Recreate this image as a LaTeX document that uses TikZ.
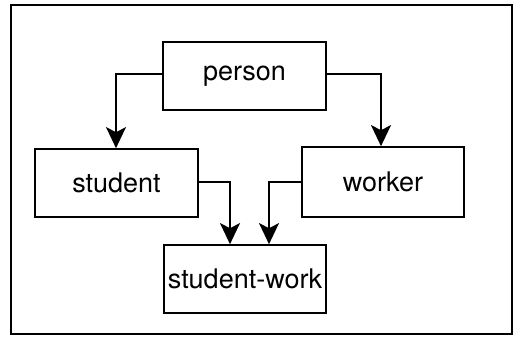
\documentclass[tikz,border=0pt]{standalone}
\usepackage{fontspec}
\setmainfont{TeX Gyre Heros}
\usetikzlibrary{arrows.meta}
\begin{document}
\begin{tikzpicture}[x=1pt,y=-1pt,
  box/.style={draw,line width=1.7pt,inner sep=0pt,font=\fontsize{27}{30}\selectfont},
  conn/.style={line width=1.4pt,-{Stealth[length=21pt,width=20pt,inset=5pt]}}]
\useasboundingbox (0,0) rectangle (517,337);
\draw[line width=1.7pt] (11,5) rectangle (512,334);
\node[box,minimum width=163pt,minimum height=68pt] (person) at (244.5,76) {person};
\node[box,minimum width=163pt,minimum height=68pt] (student) at (116.5,183) {student};
\node[box,minimum width=162pt,minimum height=70pt] (worker) at (383,182) {worker};
\node[box,minimum width=162pt,minimum height=68pt] (sw) at (245,279) {student-work};
\coordinate (c1) at (116,74);
\coordinate (c2) at (381,74);
\coordinate (c3) at (230,182);
\coordinate (c4) at (269,182);
\draw[conn] (person.west |- c1) -- (c1) -- (c1 |- student.north);
\draw[conn] (person.east |- c2) -- (c2) -- (c2 |- worker.north);
\draw[conn] (student.east |- c3) -- (c3) -- (c3 |- sw.north);
\draw[conn] (worker.west |- c4) -- (c4) -- (c4 |- sw.north);
\end{tikzpicture}
\end{document}
